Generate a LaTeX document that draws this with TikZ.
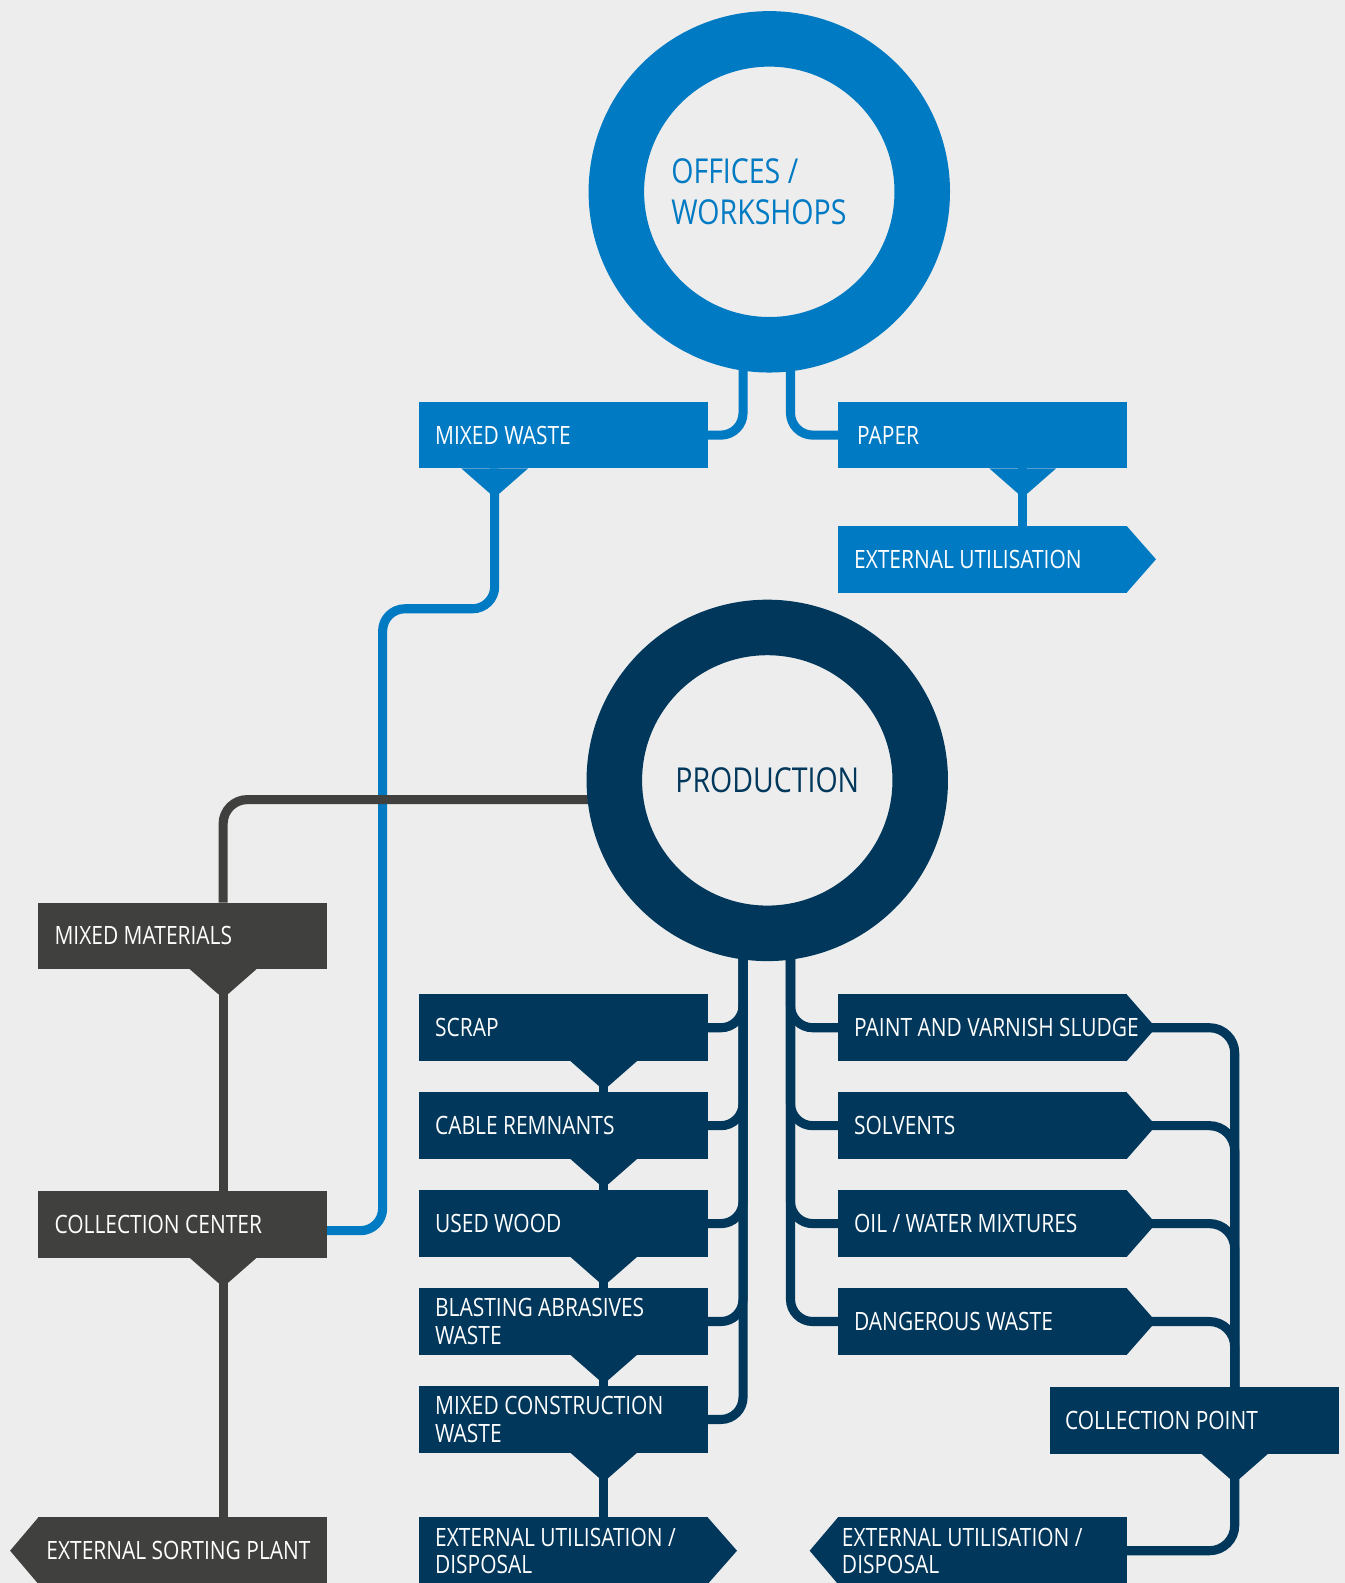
\documentclass[tikz,border=0pt]{standalone}
\usepackage{fontspec}
\setmainfont{Open Sans}[FakeStretch=0.83]
\usepackage{tikz}
\usetikzlibrary{calc}

\definecolor{wasteblue}{HTML}{007AC3}
\definecolor{wastenavy}{HTML}{00375B}
\definecolor{wastegray}{HTML}{40403E}
\definecolor{bggray}{HTML}{EDEDED}

\pgfdeclarelayer{bg}
\pgfdeclarelayer{wires}
\pgfsetlayers{bg,wires,main}

\newcommand{\boxfont}{\fontsize{25}{27}\selectfont}
\newcommand{\circfont}{\fontsize{34}{40}\selectfont}
\newcommand{\funnel}[3]{\fill[#1] ($(#2.south west)+(#3-33,0)$) -- ++(66,0) -- ++(-28.5,25) -- ++(-9,0) -- cycle;}
\newcommand{\tipout}[2]{\fill[#1] (#2.north east) -- ++(25,28.5) -- ++(0,9) -- (#2.south east) -- cycle;}
\newcommand{\pointright}[2]{\fill[#1] (#2.north east) -- ($(#2.east)+(29,0)$) -- (#2.south east) -- cycle;}
\newcommand{\pointleft}[2]{\fill[#1] (#2.north west) -- ($(#2.west)+(-28,0)$) -- (#2.south west) -- cycle;}

\begin{document}
\begin{tikzpicture}[x=1pt, y=-1pt, every node/.style={inner sep=0, outer sep=0}]

\tikzstyle{wbox}=[rectangle, anchor=north west, minimum width=286, minimum height=66, text width=254, inner xsep=16, align=flush left, text=white, font=\boxfont]
\tikzstyle{bluebox}=[wbox, fill=wasteblue]
\tikzstyle{navybox}=[wbox, fill=wastenavy]
\tikzstyle{graybox}=[wbox, fill=wastegray]
\tikzstyle{ring}=[circle, line width=55, minimum size=303, fill=bggray, font=\circfont]
\tikzstyle{blueline}=[draw=wasteblue, line width=9]
\tikzstyle{navyline}=[draw=wastenavy, line width=9]
\tikzstyle{grayline}=[draw=wastegray, line width=9]

\begin{pgfonlayer}{bg}
\fill[bggray] (0,0) rectangle (1332,1568);
\end{pgfonlayer}
\useasboundingbox (0,0) rectangle (1332,1568);

\node[ring, draw=wasteblue] (offices) at (762,190) {};
\node[anchor=west, align=flush left, text=wasteblue, font=\circfont] (officestext) at (665,190) {OFFICES /\\WORKSHOPS};
\node[ring, draw=wastenavy, text=wastenavy] (prod) at (760,773) {PRODUCTION};

\node[bluebox] (mixed) at (415,398) {MIXED WASTE};
\node[bluebox, inner xsep=19, text width=248] (paper) at (830,398) {PAPER};
\node[bluebox] (extutil) at (830,521) {EXTERNAL UTILISATION};

\node[graybox] (mixedmat) at (38,894) {MIXED MATERIALS};
\node[graybox] (collcenter) at (38,1180) {COLLECTION CENTER};
\node[graybox, inner xsep=8, text width=270] (sortplant) at (38,1503) {EXTERNAL SORTING PLANT};

\node[navybox] (scrap) at (415,985) {SCRAP};
\node[navybox] (cable) at (415,1082) {CABLE REMNANTS};
\node[navybox] (wood) at (415,1179) {USED WOOD};
\node[navybox] (blasting) at (415,1276) {BLASTING ABRASIVES\\WASTE};
\node[navybox] (mixedcon) at (415,1373) {MIXED CONSTRUCTION\\WASTE};
\node[navybox] (extleft) at (415,1503) {EXTERNAL UTILISATION /\\DISPOSAL};

\node[navybox] (paint) at (830,985) {\makebox[254pt][l]{PAINT AND VARNISH SLUDGE}};
\node[navybox] (solvents) at (830,1082) {SOLVENTS};
\node[navybox] (oil) at (830,1179) {OIL / WATER MIXTURES};
\node[navybox] (dangerous) at (830,1276) {DANGEROUS WASTE};
\node[navybox, inner xsep=15, text width=256] (collpoint) at (1040,1374) {COLLECTION POINT};
\node[navybox, inner xsep=4, text width=278] (extright) at (830,1503) {EXTERNAL UTILISATION /\\DISPOSAL};

\funnel{wasteblue}{mixed}{75}
\funnel{wasteblue}{paper}{183}
\funnel{wastegray}{mixedmat}{183}
\funnel{wastegray}{collcenter}{183}
\foreach \n in {scrap,cable,wood,blasting,mixedcon} {\funnel{wastenavy}{\n}{183}}
\funnel{wastenavy}{collpoint}{183}

\pointright{wasteblue}{extutil}
\pointright{wastenavy}{extleft}
\pointleft{wastegray}{sortplant}
\pointleft{wastenavy}{extright}

\begin{pgfonlayer}{wires}
\foreach \n in {paint,solvents,oil,dangerous} {\tipout{wastenavy}{\n}}

\draw[blueline, rounded corners=22] ($(offices.center)+(-26,0)$) |- (mixed.east);
\draw[blueline, rounded corners=22] ($(offices.center)+(21,0)$) |- (paper.west);
\draw[blueline] ($(paper.south west)+(183,0)$) -- ($(extutil.north west)+(183,0)$);
\draw[blueline, rounded corners=22] ($(mixed.south west)+(75,0)$) -- ++(0,139) -| ($(collcenter.east)+(55,6)$) -- ($(collcenter.east)+(0,6)$);

\draw[grayline, rounded corners=24] ($(prod.center)+(0,19)$) -| ($(mixedmat.north west)+(183,0)$);
\draw[grayline] ($(mixedmat.south west)+(183,0)$) -- ($(collcenter.north west)+(183,0)$);
\draw[grayline] ($(collcenter.south west)+(183,0)$) -- ($(sortplant.north west)+(183,0)$);

\foreach \n in {scrap,cable,wood,blasting,mixedcon}
  \draw[navyline, rounded corners=22] ($(prod.center)+(-24,0)$) |- (\n.east);
\foreach \a/\b in {scrap/cable,cable/wood,wood/blasting,blasting/mixedcon,mixedcon/extleft}
  \draw[navyline] ($(\a.south west)+(183,0)$) -- ($(\b.north west)+(183,0)$);
\foreach \n in {paint,solvents,oil,dangerous}
  \draw[navyline, rounded corners=22] ($(prod.center)+(23,0)$) |- (\n.west);
\foreach \n in {paint,solvents,oil,dangerous}
  \draw[navyline, rounded corners=25] ($(\n.east)+(25,0)$) -| ($(collpoint.north west)+(183,0)$);
\draw[navyline, rounded corners=25] ($(collpoint.south west)+(183,0)$) |- (extright.east);
\end{pgfonlayer}

\end{tikzpicture}
\end{document}
